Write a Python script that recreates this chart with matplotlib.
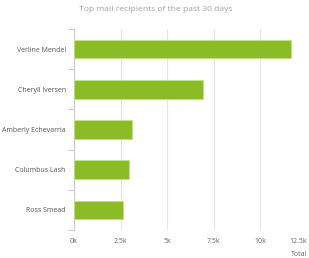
import matplotlib
matplotlib.use("Agg")
import matplotlib.pyplot as plt
from matplotlib.ticker import FixedLocator

names = ["Verline Mendel", "Cheryll Iversen", "Amberly Echevarria", "Columbus Lash", "Ross Smead"]
totals = [11650, 6950, 3100, 2975, 2615]
xticks = [0, 2500, 5000, 7500, 10000, 12500]
xticklabels = ["0k", "2.5k", "5k", "7.5k", "10k", "12.5k"]
subtitle = "Top mail recipients of the past 30 days"
xlabel = "Total"

plt.rcParams['font.family'] = ['Open Sans', 'DejaVu Sans']

W, H = 309, 258
fig = plt.figure(figsize=(W / 100, H / 100), dpi=100)
ax = fig.add_axes([74 / W, 1 - 230 / H, (307 - 74) / W, 201 / H])

ypos = list(range(len(names)))
ax.barh(ypos, totals, height=0.46, color="#8bbb25", edgecolor="#c5e08a", linewidth=0.6, zorder=3)
ax.set_ylim(len(names) - 0.5, -0.5)
ax.set_xlim(0, 12500 * (307 - 74) / (306.7 - 74))

ax.set_xticks(xticks)
ax.set_xticklabels(xticklabels, fontsize=5, color="#666666")
ax.get_xticklabels()[-1].set_horizontalalignment("right")
ax.xaxis.grid(True, color="#e6e6e6", linewidth=0.8, zorder=0)
ax.tick_params(axis='x', length=0, pad=6)

ax.set_yticks(ypos)
ax.set_yticklabels(names, fontsize=5, color="#555555")
ax.tick_params(axis='y', which='major', length=0, pad=6)
ax.yaxis.set_minor_locator(FixedLocator([i - 0.5 for i in range(len(names) + 1)]))
ax.tick_params(axis='y', which='minor', length=4, color="#cccccc", width=0.8)

for s in ["top", "right", "bottom"]:
    ax.spines[s].set_visible(False)
ax.spines["left"].set_color("#cccccc")
ax.spines["left"].set_linewidth(0.8)

fig.text(156 / W, 1 - 9.5 / H, subtitle, ha="center", va="center", fontsize=6.1, color="#a0a0a0")
fig.text(307 / W, 1 - 254 / H, xlabel, ha="right", va="center", fontsize=5, color="#666666")

fig.savefig("out.png", dpi=100)
